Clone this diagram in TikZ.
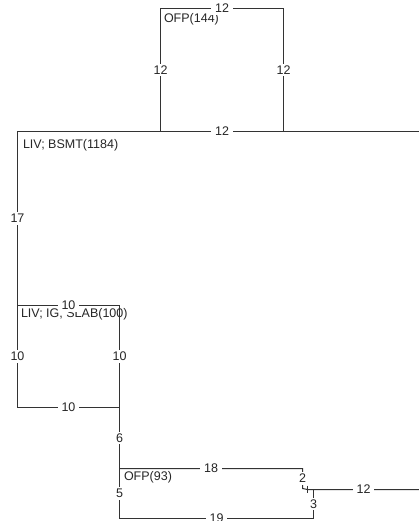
\documentclass[tikz,border=0pt]{standalone}
\usepackage{fontspec}
\setmainfont{Liberation Sans}
\begin{document}
\begin{tikzpicture}[x=1pt,y=-1pt,line width=1pt,
  wall/.style={draw=black!80},
  dim/.style={fill=white,inner xsep=4pt,inner ysep=2pt,text=black!85,font=\fontsize{12.5}{12.5}\selectfont},
  room/.style={anchor=west,inner sep=0pt,text=black!85,font=\fontsize{12.5}{12.5}\selectfont}]
  \useasboundingbox (0,0) rectangle (419,521);

  \begin{scope}[shift={(0.5,0.5)}]
  % room names
  \node[room] (ofp1) at (163,19) {OFP(144)};
  \node[room] (bsmt) at (22,145) {LIV; BSMT(1184)};
  \node[room] (slab) at (20,314) {LIV; IG, SLAB(100)};
  \node[room] (ofp2) at (123,477) {OFP(93)};

  % walls with dimensions
  \draw[wall] (160,131) -- node[dim] (a1) {12} (160,8) -- node[dim] (a2) {12} (283,8)
    -- node[dim] (a3) {12} (283,131);
  \draw[wall] (419,131) -- (283,131) -- node[dim] (b1) {12} (160,131) -- (17,131)
    -- node[dim] (b2) {17} (17,305);
  \draw[wall] (17,305) -- node[dim] (c1) {10} (119,305) -- node[dim] (c2) {10} (119,407)
    -- node[dim] (c3) {10} (17,407) -- node[dim] (c4) {10} (17,305);
  \draw[wall] (119,407) -- node[dim] (d1) {6} (119,468) -- node[dim] (d2) {5} (119,518)
    -- node[dim] (d3) {19} (313,518) -- node[dim] (d4) {3} (313,489);
  \draw[wall] (119,468) -- node[dim] (e1) {18} (302,468) -- node[dim] (e2) {2} (302,488)
    -- (307,489) -- node[dim] (e3) {12} (419,489);
  \draw[wall] (307,485) -- (307,492);
  \end{scope}
\end{tikzpicture}
\end{document}
